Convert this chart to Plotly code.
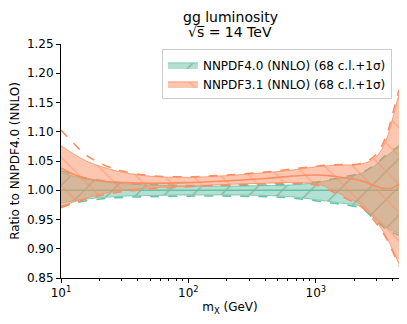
import plotly.graph_objects as go

# invariant mass grid (GeV)
mx = [10, 12.6, 15.8, 22.4, 31.6, 50, 100, 200, 400, 630, 1000, 1260, 1580, 2290, 2950, 3550, 3980, 4500]

# NNPDF4.0 (NNLO) ratio to itself
nn40_cv = [1.0] * len(mx)
nn40_up = [1.030, 1.024, 1.019, 1.014, 1.011, 1.009, 1.007, 1.007, 1.008, 1.009, 1.013, 1.017, 1.021, 1.029, 1.043, 1.058, 1.066, 1.074]
nn40_lo = [0.978, 0.982, 0.985, 0.988, 0.990, 0.991, 0.992, 0.992, 0.991, 0.989, 0.984, 0.981, 0.978, 0.972, 0.950, 0.937, 0.931, 0.926]
nn40_sig_up = [1.033, 1.026, 1.021, 1.016, 1.012, 1.010, 1.008, 1.008, 1.009, 1.010, 1.014, 1.018, 1.022, 1.030, 1.045, 1.060, 1.068, 1.076]
nn40_sig_lo = [0.973, 0.978, 0.982, 0.986, 0.988, 0.989, 0.990, 0.990, 0.989, 0.987, 0.982, 0.979, 0.976, 0.969, 0.948, 0.934, 0.928, 0.923]

# NNPDF3.1 (NNLO) ratio to NNPDF4.0
nn31_cv = [1.038, 1.027, 1.020, 1.015, 1.013, 1.012, 1.013, 1.016, 1.020, 1.024, 1.026, 1.025, 1.022, 1.016, 1.007, 1.003, 1.004, 1.010]
nn31_up = [1.076, 1.062, 1.050, 1.038, 1.030, 1.024, 1.022, 1.025, 1.030, 1.034, 1.040, 1.042, 1.043, 1.045, 1.056, 1.085, 1.120, 1.165]
nn31_lo = [0.972, 0.980, 0.987, 0.995, 1.000, 1.004, 1.007, 1.010, 1.012, 1.013, 1.011, 1.004, 0.993, 0.974, 0.948, 0.922, 0.900, 0.874]
nn31_sig_up = [1.103, 1.080, 1.060, 1.042, 1.032, 1.025, 1.023, 1.026, 1.031, 1.036, 1.041, 1.043, 1.044, 1.046, 1.060, 1.091, 1.128, 1.172]
nn31_sig_lo = [0.970, 0.978, 0.985, 0.993, 0.998, 1.002, 1.006, 1.009, 1.011, 1.012, 1.009, 1.001, 0.990, 0.971, 0.945, 0.919, 0.897, 0.870]

FONT = "DejaVu Sans"

sets = [
    ("NNPDF4.0 (NNLO) (68 c.l.+1σ)", "#66c2a5", "rgba(102,194,165,0.5)", "/", "rgba(100,120,100,0.9)",
     nn40_cv, nn40_up, nn40_lo, nn40_sig_up, nn40_sig_lo),
    ("NNPDF3.1 (NNLO) (68 c.l.+1σ)", "#fc8d62", "rgba(252,141,98,0.5)", "\\", "rgba(252,141,98,1)",
     nn31_cv, nn31_up, nn31_lo, nn31_sig_up, nn31_sig_lo),
]

fig = go.Figure()
for name, col, fillcol, hatch, hatchcol, cv, up, lo, sup, slo in sets:
    fig.add_trace(go.Scatter(
        x=mx, y=lo, mode="lines", line=dict(color=col, width=0.8, shape="spline"),
        showlegend=False, legendgroup=name, hoverinfo="skip"))
    fig.add_trace(go.Scatter(
        x=mx, y=up, mode="lines", name=name, legendgroup=name,
        line=dict(color=col, width=0.8, shape="spline"),
        fill="tonexty", fillcolor=fillcol,
        fillpattern=dict(shape=hatch, fgcolor=hatchcol, size=20, solidity=0.07, fillmode="overlay"),
    ))
    for s in (sup, slo):
        fig.add_trace(go.Scatter(
            x=mx, y=s, mode="lines", showlegend=False, legendgroup=name,
            line=dict(color=col, width=1.6, dash="dash", shape="spline")))
    fig.add_trace(go.Scatter(
        x=mx, y=cv, mode="lines", showlegend=False, legendgroup=name,
        line=dict(color=col, width=1.6, shape="spline")))

# the page body adds an 8px margin, so the figure is sized to fit inside the window
fig.update_layout(
    width=391, height=308,
    margin=dict(l=53, r=0, t=35.5, b=37.7),
    paper_bgcolor="white", plot_bgcolor="white",
    font=dict(family=FONT, size=12, color="black"),
    legend=dict(x=0.979, xanchor="right", y=0.977, yanchor="top",
                bgcolor="rgba(255,255,255,0.8)", bordercolor="#cccccc", borderwidth=1,
                font=dict(family=FONT, size=12), itemwidth=30, tracegroupgap=0),
    showlegend=True,
)
fig.add_annotation(text="gg luminosity", xref="paper", yref="paper", x=0.5, y=1.117,
                   xanchor="center", yanchor="middle", showarrow=False,
                   font=dict(family=FONT, size=14))
fig.add_annotation(text="√s\u0305 = 14 TeV",
                   xref="paper", yref="paper", x=0.5, y=1.053, xanchor="center", yanchor="middle",
                   showarrow=False, font=dict(family=FONT, size=14))

minor_vals = [k * 10 ** e for e in (1, 2, 3) for k in range(2, 10) if k * 10 ** e < 4500]
fig.update_xaxes(
    type="log", range=[1, 3.653], automargin=False,
    tickvals=[10, 100, 1000], ticktext=["10<sup>1</sup>", "10<sup>2</sup>", "10<sup>3</sup>"],
    ticks="outside", ticklen=4, tickcolor="black",
    minor=dict(tickmode="array", tickvals=minor_vals, ticks="outside", ticklen=2,
               tickcolor="black", showgrid=False),
    showline=True, linecolor="black", linewidth=1, showgrid=False, zeroline=False,
    title=dict(text="m<sub>X</sub> (GeV)", font=dict(family=FONT, size=12), standoff=4),
)
fig.update_yaxes(
    range=[0.85, 1.25], dtick=0.05, tickformat=".2f", automargin=False,
    ticks="outside", ticklen=4, tickcolor="black",
    showline=True, linecolor="black", linewidth=1, showgrid=False, zeroline=False,
    title=dict(text="Ratio to NNPDF4.0 (NNLO)", font=dict(family=FONT, size=12), standoff=6),
)

fig.write_html("out.html")
